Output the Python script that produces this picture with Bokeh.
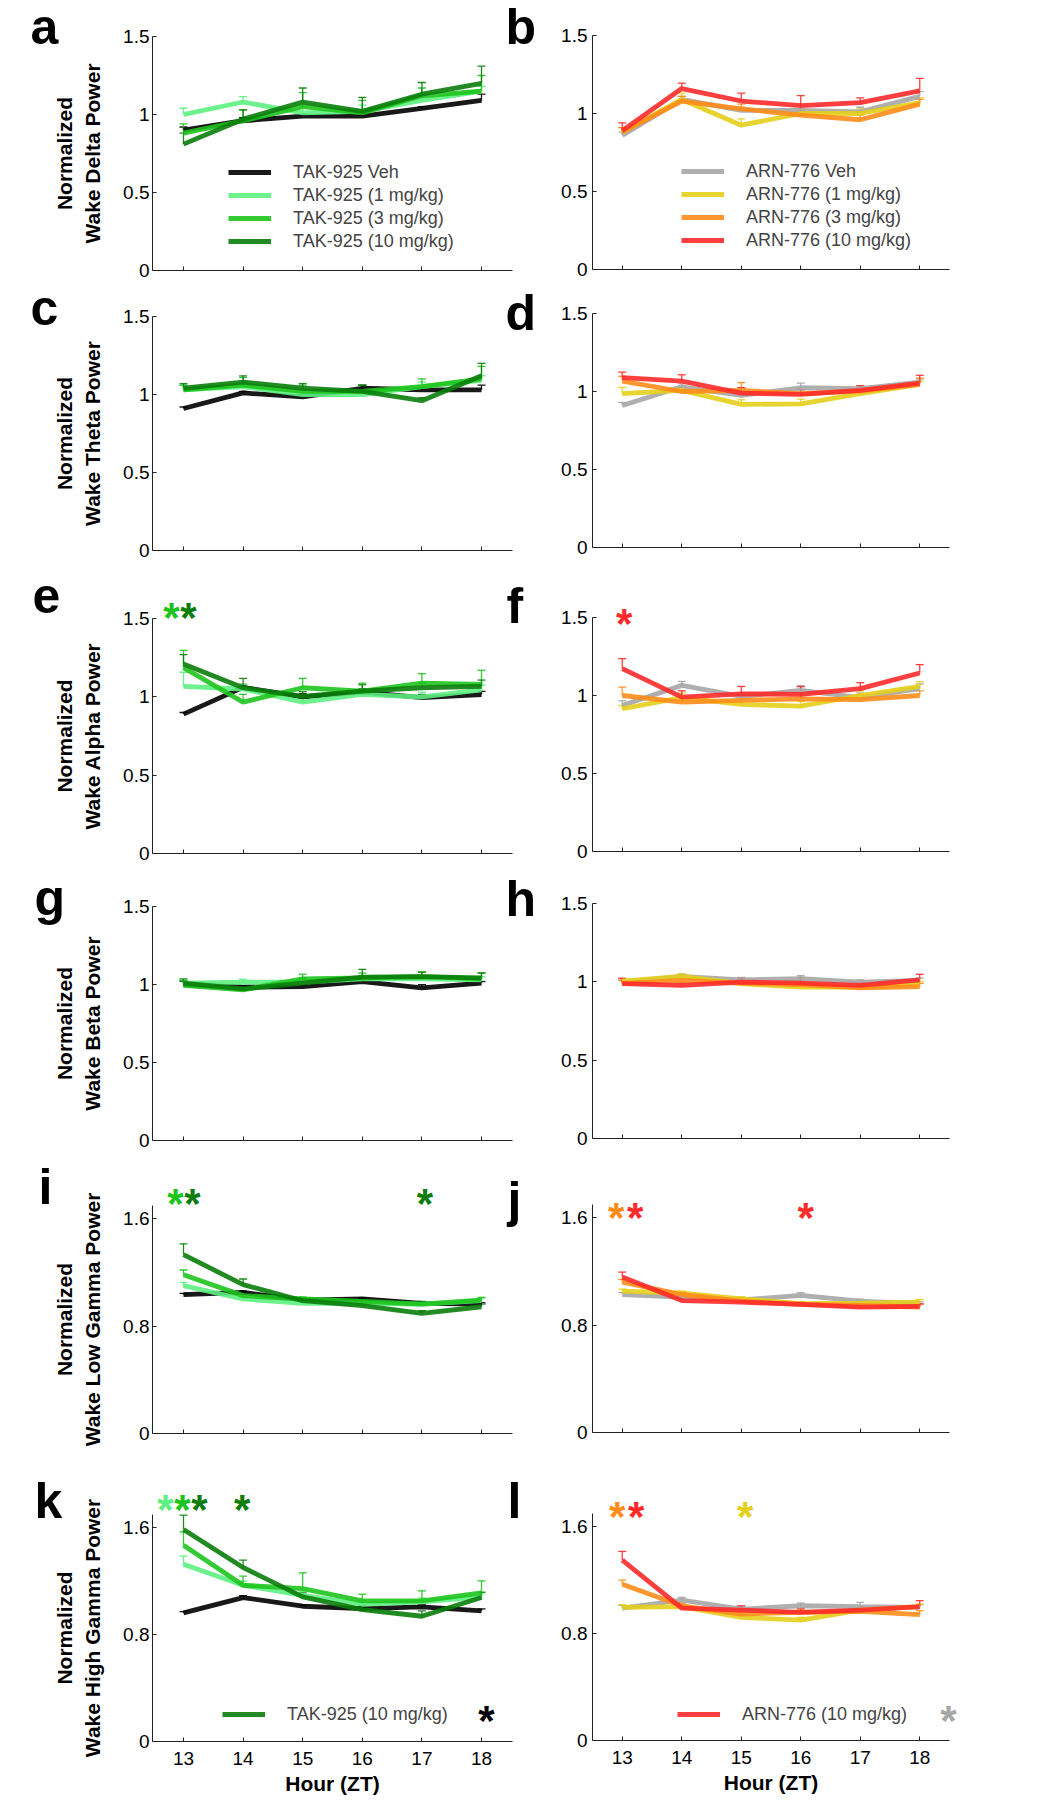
from bokeh.plotting import figure
from bokeh.models import (FixedTicker, Range1d, Whisker, TeeHead, ColumnDataSource,
                          Label, Legend, LegendItem, LinearAxis)
from bokeh.embed import file_html
from bokeh.resources import INLINE

FONT = "Liberation Sans"
HOURS = [13, 14, 15, 16, 17, 18]

TAK_KEYS = ["veh", "d1", "d3", "d10"]
TAK_NAMES = ["TAK-925 Veh", "TAK-925 (1 mg/kg)", "TAK-925 (3 mg/kg)", "TAK-925 (10 mg/kg)"]
TAK_COLORS = ["#000000", "#5CF080", "#1DC41D", "#0A7D0A"]
ARN_KEYS = ["veh", "d1", "d3", "d10"]
ARN_NAMES = ["ARN-776 Veh", "ARN-776 (1 mg/kg)", "ARN-776 (3 mg/kg)", "ARN-776 (10 mg/kg)"]
ARN_COLORS = ["#A6A6A6", "#E6CF1A", "#FF8C1A", "#FF2A2A"]

BANDS = ["Delta", "Theta", "Alpha", "Beta", "Low Gamma", "High Gamma"]

# ---- panel a: TAK-925 wake delta
A_MEAN = {"veh": [0.90, 0.96, 0.99, 0.99, 1.04, 1.09],
          "d1": [1.00, 1.08, 1.01, 1.02, 1.09, 1.15],
          "d3": [0.88, 0.96, 1.05, 1.01, 1.12, 1.15],
          "d10": [0.81, 0.97, 1.08, 1.02, 1.13, 1.20]}
A_SEM = {"veh": [0.02, 0.02, 0.01, 0.01, 0.01, 0.04],
         "d1": [0.04, 0.035, 0.04, 0.04, 0.04, 0.03],
         "d3": [0.06, 0.07, 0.09, 0.08, 0.05, 0.10],
         "d10": [0.07, 0.06, 0.09, 0.09, 0.075, 0.11]}
# ---- panel b: ARN-776 wake delta
B_MEAN = {"veh": [0.86, 1.09, 1.02, 1.02, 1.01, 1.11],
          "d1": [0.88, 1.09, 0.925, 1.00, 1.00, 1.07],
          "d3": [0.88, 1.08, 1.03, 0.99, 0.96, 1.06],
          "d10": [0.89, 1.16, 1.08, 1.05, 1.07, 1.145]}
B_SEM = {"veh": [0.02, 0.02, 0.02, 0.03, 0.03, 0.03],
         "d1": [0.03, 0.04, 0.04, 0.03, 0.03, 0.03],
         "d3": [0.03, 0.03, 0.03, 0.03, 0.03, 0.03],
         "d10": [0.05, 0.035, 0.05, 0.065, 0.03, 0.08]}
# ---- panel c: TAK-925 wake theta
C_MEAN = {"veh": [0.91, 1.01, 0.985, 1.04, 1.03, 1.03],
          "d1": [1.03, 1.05, 1.00, 1.00, 1.05, 1.09],
          "d3": [1.03, 1.06, 1.02, 1.02, 1.05, 1.10],
          "d10": [1.04, 1.08, 1.04, 1.02, 0.96, 1.12]}
C_SEM = {"veh": [0.01, 0.01, 0.01, 0.02, 0.02, 0.03],
         "d1": [0.03, 0.03, 0.03, 0.03, 0.03, 0.03],
         "d3": [0.03, 0.05, 0.04, 0.04, 0.05, 0.08],
         "d10": [0.03, 0.04, 0.03, 0.04, 0.02, 0.08]}
# ---- panel d: ARN-776 wake theta
D_MEAN = {"veh": [0.91, 1.03, 0.975, 1.024, 1.018, 1.06],
          "d1": [0.986, 1.007, 0.917, 0.921, 0.986, 1.046],
          "d3": [1.067, 1.0, 1.007, 0.986, 1.003, 1.046],
          "d10": [1.089, 1.067, 0.99, 0.981, 1.007, 1.054]}
D_SEM = {"veh": [0.02, 0.02, 0.02, 0.03, 0.02, 0.02],
         "d1": [0.04, 0.02, 0.03, 0.03, 0.02, 0.02],
         "d3": [0.03, 0.02, 0.05, 0.03, 0.03, 0.04],
         "d10": [0.035, 0.04, 0.035, 0.03, 0.03, 0.05]}
# ---- panel e: TAK-925 wake alpha
E_MEAN = {"veh": [0.89, 1.06, 1.00, 1.03, 0.995, 1.015],
          "d1": [1.067, 1.05, 0.966, 1.016, 0.999, 1.045],
          "d3": [1.186, 0.966, 1.058, 1.037, 1.088, 1.08],
          "d10": [1.21, 1.058, 1.003, 1.037, 1.058, 1.067]}
E_SEM = {"veh": [0.01, 0.02, 0.02, 0.02, 0.02, 0.02],
         "d1": [0.09, 0.03, 0.03, 0.03, 0.03, 0.03],
         "d3": [0.11, 0.05, 0.06, 0.05, 0.06, 0.09],
         "d10": [0.06, 0.06, 0.03, 0.04, 0.03, 0.04]}
# ---- panel f: ARN-776 wake alpha
F_MEAN = {"veh": [0.936, 1.065, 0.994, 1.033, 0.986, 1.044],
          "d1": [0.915, 0.986, 0.943, 0.932, 1.0, 1.058],
          "d3": [1.0, 0.958, 0.969, 0.979, 0.973, 1.0],
          "d10": [1.172, 0.99, 1.011, 1.007, 1.044, 1.144]}
F_SEM = {"veh": [0.03, 0.025, 0.02, 0.03, 0.03, 0.03],
         "d1": [0.02, 0.03, 0.03, 0.03, 0.03, 0.03],
         "d3": [0.054, 0.03, 0.03, 0.03, 0.03, 0.03],
         "d10": [0.064, 0.04, 0.047, 0.05, 0.038, 0.054]}
# ---- panel g: TAK-925 wake beta
G_MEAN = {"veh": [1.0, 0.983, 0.987, 1.019, 0.979, 1.009],
          "d1": [1.009, 1.015, 1.015, 1.036, 1.036, 1.03],
          "d3": [0.994, 0.966, 1.036, 1.043, 1.051, 1.036],
          "d10": [1.009, 0.972, 1.009, 1.047, 1.051, 1.043]}
G_SEM = {"veh": [0.02, 0.01, 0.01, 0.01, 0.02, 0.01],
         "d1": [0.02, 0.02, 0.02, 0.02, 0.02, 0.02],
         "d3": [0.03, 0.02, 0.03, 0.03, 0.03, 0.04],
         "d10": [0.027, 0.02, 0.03, 0.05, 0.028, 0.03]}
# ---- panel h: ARN-776 wake beta
H_MEAN = {"veh": [0.998, 1.035, 1.013, 1.02, 0.998, 1.009],
          "d1": [1.005, 1.035, 0.988, 0.966, 0.966, 0.988],
          "d3": [0.988, 1.009, 0.992, 0.983, 0.962, 0.97],
          "d10": [0.988, 0.977, 0.998, 0.992, 0.977, 1.013]}
H_SEM = {"veh": [0.015, 0.015, 0.015, 0.02, 0.015, 0.015],
         "d1": [0.015, 0.015, 0.015, 0.015, 0.015, 0.015],
         "d3": [0.02, 0.02, 0.02, 0.02, 0.02, 0.02],
         "d10": [0.035, 0.02, 0.025, 0.035, 0.02, 0.035]}
# ---- panel i: TAK-925 wake low gamma
I_MEAN = {"veh": [1.035, 1.052, 0.995, 1.003, 0.97, 0.965],
          "d1": [1.102, 1.003, 0.97, 0.97, 0.965, 0.99],
          "d3": [1.184, 1.028, 1.003, 0.985, 0.965, 0.995],
          "d10": [1.334, 1.11, 0.99, 0.953, 0.896, 0.945]}
I_SEM = {"veh": [0.01, 0.01, 0.01, 0.01, 0.01, 0.01],
         "d1": [0.025, 0.02, 0.02, 0.02, 0.02, 0.02],
         "d3": [0.035, 0.02, 0.015, 0.02, 0.02, 0.02],
         "d10": [0.08, 0.042, 0.02, 0.02, 0.02, 0.02]}
# ---- panel j: ARN-776 wake low gamma
J_MEAN = {"veh": [1.029, 1.009, 0.989, 1.022, 0.979, 0.96],
          "d1": [1.054, 1.039, 0.997, 0.96, 0.964, 0.972],
          "d3": [1.121, 1.029, 0.979, 0.955, 0.947, 0.935],
          "d10": [1.159, 0.984, 0.972, 0.955, 0.935, 0.94]}
J_SEM = {"veh": [0.015, 0.015, 0.015, 0.02, 0.015, 0.015],
         "d1": [0.015, 0.015, 0.015, 0.015, 0.015, 0.02],
         "d3": [0.02, 0.015, 0.015, 0.015, 0.015, 0.02],
         "d10": [0.037, 0.015, 0.015, 0.015, 0.015, 0.02]}
# ---- panel k: TAK-925 wake high gamma
K_MEAN = {"veh": [0.963, 1.078, 1.013, 0.995, 1.008, 0.978],
          "d1": [1.328, 1.17, 1.095, 1.028, 1.045, 1.083],
          "d3": [1.47, 1.17, 1.145, 1.053, 1.053, 1.113],
          "d10": [1.588, 1.303, 1.083, 0.988, 0.938, 1.078]}
K_SEM = {"veh": [0.01, 0.015, 0.01, 0.01, 0.015, 0.015],
         "d1": [0.06, 0.03, 0.03, 0.03, 0.03, 0.03],
         "d3": [0.1, 0.068, 0.118, 0.05, 0.075, 0.09],
         "d10": [0.107, 0.055, 0.03, 0.03, 0.04, 0.04]}
# ---- panel l: ARN-776 wake high gamma
L_MEAN = {"veh": [0.992, 1.052, 0.984, 1.009, 1.002, 0.997],
          "d1": [0.997, 1.002, 0.922, 0.902, 0.977, 1.002],
          "d3": [1.171, 1.009, 0.947, 0.96, 0.967, 0.942],
          "d10": [1.351, 0.992, 0.977, 0.96, 0.977, 1.002]}
L_SEM = {"veh": [0.02, 0.02, 0.02, 0.02, 0.032, 0.02],
         "d1": [0.02, 0.02, 0.02, 0.02, 0.02, 0.02],
         "d3": [0.03, 0.02, 0.02, 0.02, 0.02, 0.03],
         "d10": [0.065, 0.02, 0.032, 0.03, 0.02, 0.045]}

# significance stars: (hour, series key)
E_STARS = [(13, "d3"), (13, "d10")]
F_STARS = [(13, "d10")]
I_STARS = [(13, "d3"), (13, "d10"), (17, "d10")]
J_STARS = [(13, "d3"), (13, "d10"), (16, "d10")]
K_STARS = [(13, "d1"), (13, "d3"), (13, "d10"), (14, "d10")]
L_STARS = [(13, "d3"), (13, "d10"), (15, "d1")]

TICKS_A = [0, 0.5, 1, 1.5]
TICK_TEXT_A = {0: "0", 0.5: "0.5", 1: "1", 1.5: "1.5"}
TICKS_B = [0, 0.8, 1.6]
TICK_TEXT_B = {0: "0", 0.8: "0.8", 1.6: "1.6"}

# ---- layout constants (page pixels, y measured from the top)
W, H = 1000, 1800
# columns: (x of the y axis, x-axis length, x data extent of the axes box)
COLS = {"L": (152, 360, (12.48, 18.52)), "R": (592, 357, (12.5, 18.5))}
# axes boxes: (y of the axis top, y of the zero line)
BOX = {"a": (36, 270), "b": (35, 269), "c": (316, 550), "d": (313, 547),
       "e": (618, 853), "f": (617, 851), "g": (906, 1140), "h": (903, 1138),
       "i": (1205, 1433), "j": (1204, 1432), "k": (1514, 1741), "l": (1513, 1740)}

p = figure(width=W, height=H, x_range=Range1d(0, W), y_range=Range1d(0, H),
           min_border=0, x_axis_location=None, y_axis_location=None,
           output_backend="svg", toolbar_location=None, tools="")
p.xgrid.visible = False
p.ygrid.visible = False
p.outline_line_color = None
p.background_fill_color = "white"
p.border_fill_color = "white"

xranges, yranges = {}, {}


def style_axis(ax):
    ax.axis_line_color = "#222222"
    ax.axis_line_width = 1
    ax.major_tick_line_color = "#222222"
    ax.major_tick_in = 4
    ax.major_tick_out = 0
    ax.minor_tick_line_color = None
    ax.major_label_text_font = FONT
    ax.major_label_text_color = "#000000"
    ax.axis_label_text_font = FONT
    ax.axis_label_text_font_style = "bold"
    ax.axis_label_text_color = "#000000"


def add_panel(name, side, band, means, sems, keys, names, colors, letter_xy,
              stars=None, star_spec=None, legend_idx=None, legend_xy=None, bottom=False,
              legend_star=None):
    L, fw, (x_lo, x_hi) = COLS[side]
    top, zero = BOX[name]
    big = name in ("i", "j", "k", "l")
    ymax = 1.7 if big else 1.5
    sx = fw / (x_hi - x_lo)
    sy = (zero - top) / ymax
    xs = x_lo - L / sx
    ys = -(H - zero) / sy
    xn, yn = "x_" + name, "y_" + name
    xranges[xn] = Range1d(xs, xs + W / sx)
    yranges[yn] = Range1d(ys, ys + H / sy)

    xax = LinearAxis(x_range_name=xn, y_range_name=yn, fixed_location=0,
                     bounds=(x_lo, x_hi), ticker=FixedTicker(ticks=HOURS))
    style_axis(xax)
    if bottom:
        xax.major_label_text_font_size = "19px"
        xax.major_label_standoff = 10
        xax.axis_label = "Hour (ZT)"
        xax.axis_label_text_font_size = "21px"
        xax.axis_label_standoff = 4
    else:
        xax.major_label_overrides = {h: "" for h in HOURS}
        xax.major_label_text_font_size = "1px"
        xax.major_label_standoff = 0
    p.add_layout(xax, "below")

    ticks, ttext = (TICKS_B, TICK_TEXT_B) if big else (TICKS_A, TICK_TEXT_A)
    yax = LinearAxis(x_range_name=xn, y_range_name=yn, fixed_location=x_lo,
                     bounds=(0, ymax), ticker=FixedTicker(ticks=ticks))
    style_axis(yax)
    yax.major_label_overrides = ttext
    yax.major_label_text_font_size = "19px"
    yax.major_label_standoff = 3 if side == "L" else 5
    if side == "L":
        yax.axis_label = "Normalized\nWake %s Power" % band
        yax.axis_label_text_font_size = "21px"
        yax.axis_label_standoff = 16
    p.add_layout(yax, "left")

    renderers = []
    for k, c in zip(keys, colors):
        m = means[k]
        s = sems[k]
        src = ColumnDataSource(dict(x=HOURS, lo=m, hi=[a + b for a, b in zip(m, s)]))
        p.add_layout(Whisker(base="x", lower="lo", upper="hi", source=src,
                             x_range_name=xn, y_range_name=yn,
                             line_color=c, line_width=1.3, line_alpha=0.9,
                             lower_head=None,
                             upper_head=TeeHead(size=8, line_color=c, line_width=1.3,
                                                line_alpha=0.9)))
        ln = p.line(HOURS, m, x_range_name=xn, y_range_name=yn,
                    line_color=c, line_width=4.8, line_alpha=0.9)
        renderers.append(ln)

    if legend_idx is not None:
        items = [LegendItem(label=names[i], renderers=[renderers[i]]) for i in legend_idx]
        lxp, lyp = legend_xy  # page x of legend left, page y of legend bottom
        p.add_layout(Legend(items=items, location=(lxp, H - lyp),
                            border_line_color=None, background_fill_alpha=0,
                            label_text_font=FONT, label_text_font_size="18px",
                            glyph_width=43, glyph_height=22, label_height=22,
                            label_standoff=22, spacing=1, padding=0, margin=0))

    lxp, lyp = letter_xy
    p.add_layout(Label(x=lxp, y=H - lyp, x_units="screen", y_units="screen", text=name,
                       text_font=FONT, text_font_style="bold", text_font_size="50px",
                       text_baseline="alphabetic", text_align="left", text_color="#000000"))

    if stars:
        cmap = dict(zip(keys, colors))
        s_yp, offs = star_spec
        for (hr, key), dx in zip(stars, offs):
            p.add_layout(Label(x=hr, y=H - s_yp, x_units="data", y_units="screen",
                               x_range_name=xn, y_range_name=yn, x_offset=dx,
                               text="*", text_color=cmap[key], text_font=FONT,
                               text_font_style="bold", text_font_size="42px",
                               text_align="center", text_baseline="middle"))
    if legend_star:
        sxp, syp, scol = legend_star
        p.add_layout(Label(x=sxp, y=H - syp, x_units="screen", y_units="screen", text="*",
                           text_color=scol, text_font=FONT, text_font_style="bold",
                           text_font_size="42px", text_align="center", text_baseline="middle"))


add_panel("a", "L", BANDS[0], A_MEAN, A_SEM, TAK_KEYS, TAK_NAMES, TAK_COLORS, (30, 26),
          legend_idx=[0, 1, 2, 3], legend_xy=(228, 252))
add_panel("b", "R", BANDS[0], B_MEAN, B_SEM, ARN_KEYS, ARN_NAMES, ARN_COLORS, (505, 26),
          legend_idx=[0, 1, 2, 3], legend_xy=(681, 251))
add_panel("c", "L", BANDS[1], C_MEAN, C_SEM, TAK_KEYS, TAK_NAMES, TAK_COLORS, (30, 307))
add_panel("d", "R", BANDS[1], D_MEAN, D_SEM, ARN_KEYS, ARN_NAMES, ARN_COLORS, (505, 312))
add_panel("e", "L", BANDS[2], E_MEAN, E_SEM, TAK_KEYS, TAK_NAMES, TAK_COLORS, (32, 595),
          stars=E_STARS, star_spec=(617, [-12, 5]))
add_panel("f", "R", BANDS[2], F_MEAN, F_SEM, ARN_KEYS, ARN_NAMES, ARN_COLORS, (506, 605),
          stars=F_STARS, star_spec=(623, [2]))
add_panel("g", "L", BANDS[3], G_MEAN, G_SEM, TAK_KEYS, TAK_NAMES, TAK_COLORS, (34, 897))
add_panel("h", "R", BANDS[3], H_MEAN, H_SEM, ARN_KEYS, ARN_NAMES, ARN_COLORS, (505, 898))
add_panel("i", "L", BANDS[4], I_MEAN, I_SEM, TAK_KEYS, TAK_NAMES, TAK_COLORS, (38, 1186),
          stars=I_STARS, star_spec=(1203, [-8, 9, 3]))
add_panel("j", "R", BANDS[4], J_MEAN, J_SEM, ARN_KEYS, ARN_NAMES, ARN_COLORS, (507, 1199),
          stars=J_STARS, star_spec=(1217, [-6, 13, 5]))
add_panel("k", "L", BANDS[5], K_MEAN, K_SEM, TAK_KEYS, TAK_NAMES, TAK_COLORS, (34, 1500),
          stars=K_STARS, star_spec=(1509, [-18, -1, 16, -1]),
          legend_idx=[3], legend_xy=(222, 1725), bottom=True, legend_star=(486, 1720, "#000000"))
add_panel("l", "R", BANDS[5], L_MEAN, L_SEM, ARN_KEYS, ARN_NAMES, ARN_COLORS, (507, 1500),
          stars=L_STARS, star_spec=(1516, [-5, 14, 4]),
          legend_idx=[3], legend_xy=(677, 1725), bottom=True, legend_star=(948, 1720, "#A6A6A6"))

p.extra_x_ranges = xranges
p.extra_y_ranges = yranges

open("out.html", "w").write(file_html(p, INLINE))
